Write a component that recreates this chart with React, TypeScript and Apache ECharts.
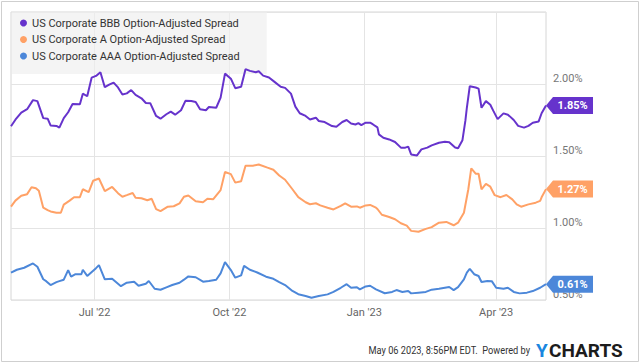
import React, { useEffect, useRef } from "react";
import * as echarts from "echarts";

const bbbDates = ["2022-05-05","2022-05-08","2022-05-12","2022-05-16","2022-05-20","2022-05-23","2022-05-27","2022-05-30","2022-06-01","2022-06-05","2022-06-07","2022-06-10","2022-06-13","2022-06-16","2022-06-21","2022-06-23","2022-06-26","2022-06-29","2022-07-02","2022-07-05","2022-07-08","2022-07-11","2022-07-14","2022-07-17","2022-07-20","2022-07-23","2022-07-26","2022-07-29","2022-08-02","2022-08-05","2022-08-08","2022-08-12","2022-08-15","2022-08-19","2022-08-22","2022-08-25","2022-08-29","2022-09-01","2022-09-05","2022-09-08","2022-09-11","2022-09-15","2022-09-17","2022-09-22","2022-09-25","2022-09-28","2022-10-02","2022-10-05","2022-10-09","2022-10-12","2022-10-15","2022-10-19","2022-10-21","2022-10-24","2022-10-28","2022-11-01","2022-11-05","2022-11-08","2022-11-12","2022-11-15","2022-11-18","2022-11-22","2022-11-25","2022-11-29","2022-12-01","2022-12-05","2022-12-10","2022-12-13","2022-12-17","2022-12-20","2022-12-23","2022-12-26","2022-12-28","2022-12-30","2023-01-02","2023-01-05","2023-01-07","2023-01-10","2023-01-11","2023-01-14","2023-01-18","2023-01-22","2023-01-26","2023-01-29","2023-01-31","2023-02-02","2023-02-06","2023-02-09","2023-02-13","2023-02-16","2023-02-21","2023-02-25","2023-02-28","2023-03-04","2023-03-06","2023-03-09","2023-03-11","2023-03-12","2023-03-14","2023-03-18","2023-03-20","2023-03-22","2023-03-25","2023-03-28","2023-03-30","2023-04-02","2023-04-06","2023-04-09","2023-04-13","2023-04-16","2023-04-20","2023-04-23","2023-04-26","2023-04-30","2023-05-02","2023-05-05"];
const bbbValues = [1.707,1.752,1.801,1.825,1.888,1.881,1.763,1.759,1.712,1.709,1.697,1.763,1.804,1.861,1.860,1.933,1.915,2.044,2.056,2.082,1.978,1.995,2.010,1.976,1.927,1.935,1.958,1.924,1.901,1.868,1.867,1.778,1.759,1.790,1.808,1.787,1.818,1.883,1.882,1.875,1.825,1.818,1.840,1.835,1.905,2.072,2.037,1.971,1.981,2.103,2.091,2.082,2.088,2.058,2.045,2.013,1.981,1.973,1.933,1.843,1.797,1.778,1.754,1.766,1.743,1.736,1.708,1.703,1.736,1.750,1.726,1.719,1.728,1.714,1.731,1.731,1.719,1.699,1.650,1.627,1.615,1.597,1.558,1.558,1.565,1.511,1.504,1.546,1.558,1.574,1.592,1.599,1.596,1.559,1.554,1.610,1.745,1.835,1.985,1.976,1.968,1.835,1.881,1.856,1.815,1.756,1.796,1.787,1.750,1.709,1.697,1.709,1.731,1.740,1.797,1.85];

const aDates = ["2022-05-05","2022-05-08","2022-05-12","2022-05-16","2022-05-19","2022-05-22","2022-05-24","2022-05-27","2022-05-30","2022-06-01","2022-06-05","2022-06-08","2022-06-10","2022-06-14","2022-06-17","2022-06-21","2022-06-23","2022-06-27","2022-06-30","2022-07-04","2022-07-08","2022-07-13","2022-07-17","2022-07-20","2022-07-23","2022-07-27","2022-07-29","2022-08-02","2022-08-06","2022-08-09","2022-08-12","2022-08-15","2022-08-20","2022-08-24","2022-08-28","2022-08-31","2022-09-03","2022-09-08","2022-09-13","2022-09-16","2022-09-20","2022-09-25","2022-09-28","2022-10-02","2022-10-05","2022-10-09","2022-10-12","2022-10-17","2022-10-21","2022-10-27","2022-10-31","2022-11-04","2022-11-08","2022-11-13","2022-11-17","2022-11-22","2022-11-25","2022-11-29","2022-12-02","2022-12-07","2022-12-11","2022-12-16","2022-12-19","2022-12-23","2022-12-27","2022-12-29","2023-01-02","2023-01-05","2023-01-09","2023-01-10","2023-01-13","2023-01-18","2023-01-22","2023-01-26","2023-01-30","2023-02-02","2023-02-07","2023-02-12","2023-02-16","2023-02-21","2023-02-26","2023-03-03","2023-03-06","2023-03-10","2023-03-13","2023-03-15","2023-03-18","2023-03-20","2023-03-22","2023-03-25","2023-03-28","2023-03-31","2023-04-04","2023-04-08","2023-04-12","2023-04-15","2023-04-18","2023-04-23","2023-04-28","2023-05-01","2023-05-02","2023-05-05"];
const aValues = [1.148,1.190,1.224,1.235,1.283,1.276,1.259,1.141,1.124,1.115,1.106,1.106,1.162,1.190,1.214,1.214,1.269,1.249,1.328,1.344,1.256,1.285,1.242,1.217,1.228,1.243,1.210,1.207,1.193,1.203,1.131,1.117,1.148,1.151,1.171,1.217,1.226,1.186,1.179,1.203,1.200,1.263,1.389,1.374,1.315,1.325,1.433,1.433,1.441,1.419,1.405,1.365,1.335,1.269,1.214,1.179,1.165,1.172,1.157,1.141,1.129,1.153,1.171,1.148,1.150,1.141,1.157,1.160,1.141,1.132,1.092,1.076,1.061,1.033,1.016,0.980,0.974,0.994,1.006,1.037,1.042,1.019,1.037,1.106,1.269,1.414,1.377,1.377,1.269,1.306,1.287,1.228,1.214,1.229,1.199,1.164,1.148,1.164,1.176,1.188,1.213,1.27];

const aaaDates = ["2022-05-05","2022-05-09","2022-05-14","2022-05-20","2022-05-23","2022-05-27","2022-05-29","2022-06-01","2022-06-05","2022-06-07","2022-06-10","2022-06-13","2022-06-15","2022-06-18","2022-06-22","2022-06-23","2022-06-26","2022-07-02","2022-07-04","2022-07-08","2022-07-13","2022-07-19","2022-07-23","2022-07-28","2022-07-31","2022-08-05","2022-08-07","2022-08-11","2022-08-15","2022-08-19","2022-08-23","2022-08-28","2022-08-31","2022-09-03","2022-09-08","2022-09-13","2022-09-17","2022-09-22","2022-09-25","2022-09-28","2022-10-02","2022-10-05","2022-10-09","2022-10-11","2022-10-15","2022-10-20","2022-10-26","2022-10-31","2022-11-04","2022-11-08","2022-11-13","2022-11-17","2022-11-22","2022-11-26","2022-12-01","2022-12-07","2022-12-11","2022-12-16","2022-12-20","2022-12-23","2022-12-27","2022-12-29","2023-01-02","2023-01-05","2023-01-09","2023-01-15","2023-01-20","2023-01-23","2023-01-27","2023-01-31","2023-02-02","2023-02-07","2023-02-12","2023-02-16","2023-02-21","2023-02-28","2023-03-03","2023-03-06","2023-03-10","2023-03-12","2023-03-14","2023-03-17","2023-03-20","2023-03-22","2023-03-26","2023-03-29","2023-04-01","2023-04-06","2023-04-09","2023-04-13","2023-04-17","2023-04-22","2023-04-26","2023-05-01","2023-05-05"];
const aaaValues = [0.690,0.710,0.724,0.754,0.731,0.644,0.631,0.604,0.624,0.631,0.641,0.707,0.662,0.679,0.679,0.710,0.667,0.721,0.742,0.644,0.647,0.596,0.620,0.627,0.599,0.613,0.632,0.578,0.571,0.588,0.604,0.620,0.641,0.664,0.658,0.627,0.632,0.641,0.685,0.763,0.708,0.655,0.671,0.737,0.710,0.691,0.662,0.647,0.624,0.604,0.563,0.540,0.528,0.516,0.528,0.539,0.556,0.585,0.610,0.585,0.589,0.574,0.594,0.599,0.574,0.547,0.556,0.569,0.556,0.562,0.546,0.551,0.556,0.572,0.578,0.590,0.569,0.589,0.643,0.690,0.717,0.679,0.667,0.625,0.632,0.631,0.585,0.578,0.585,0.556,0.546,0.551,0.562,0.585,0.61];

const seriesNames = [
  "US Corporate BBB Option-Adjusted Spread",
  "US Corporate A Option-Adjusted Spread",
  "US Corporate AAA Option-Adjusted Spread",
];
const seriesColors = ["#6633cc", "#ffa166", "#4c87d9"];
const xTickDates = ["2022-07-01", "2022-10-01", "2023-01-01", "2023-04-01"];
const monthNames = ["Jan","Feb","Mar","Apr","May","Jun","Jul","Aug","Sep","Oct","Nov","Dec"];
const xMin = "2022-05-05";
const xMax = "2023-05-05";
const yMin = 0.5;
const yMax = 2.5;
const yStep = 0.5;
const footerText = "May 06 2023, 8:56PM EDT.  Powered by";

const toTime = (s: string) => new Date(s + "T00:00:00").getTime();

export default function App() {
  const ref = useRef<HTMLDivElement>(null);
  useEffect(() => {
    if (!ref.current) return;
    const chart = echarts.init(ref.current, undefined, { renderer: "svg" });
    const all = [
      [bbbDates, bbbValues],
      [aDates, aValues],
      [aaaDates, aaaValues],
    ] as [string[], number[]][];
    const series = all.map(([d, v], i) => {
      const last = v.length - 1;
      return {
        name: seriesNames[i],
        type: "line",
        showSymbol: false,
        symbol: "none",
        color: seriesColors[i],
        lineStyle: { width: 2, color: seriesColors[i] },
        data: d.map((dt, k) => [toTime(dt), v[k]]),
        z: 5 - i,
        markPoint: {
          silent: true,
          symbol: "path://M0,8.5 L7,0 L47,0 L47,17 L7,17 Z",
          symbolSize: [47, 17],
          symbolOffset: ["50%", 0],
          itemStyle: { color: seriesColors[i] },
          label: {
            show: true,
            position: "inside",
            offset: [3, 0],
            color: "#fff",
            fontSize: 11,
            fontWeight: "bold",
            fontFamily: "Roboto",
            formatter: (p: any) => Number(p.value).toFixed(2) + "%",
          },
          data: [{ coord: [toTime(d[last]), v[last]], value: v[last] }],
        },
      };
    });
    const ticks = xTickDates.map(toTime);
    chart.setOption({
      animation: false,
      textStyle: { fontFamily: "Roboto" },
      grid: {
        left: 11,
        top: 12,
        right: 94,
        bottom: 63,
        show: true,
        borderColor: "#d6d6d6",
        borderWidth: 1,
        outerBoundsMode: "none",
        containLabel: false,
      },
      legend: {
        orient: "vertical",
        left: 12,
        top: 12,
        padding: [4, 27, 11, 8],
        itemGap: 2.5,
        itemWidth: 7,
        itemHeight: 7,
        icon: "circle",
        backgroundColor: "rgba(238,238,238,0.65)",
        textStyle: { fontSize: 11, color: "#333", fontFamily: "Roboto", lineHeight: 14 },
        data: seriesNames,
        selectedMode: false,
      },
      xAxis: {
        type: "value",
        min: toTime(xMin),
        max: toTime(xMax),
        axisLine: { show: false },
        axisTick: { show: false, customValues: ticks },
        axisLabel: {
          customValues: ticks,
          color: "#666",
          fontSize: 11,
          margin: 7,
          formatter: (val: number) => {
            const dt = new Date(val);
            return monthNames[dt.getMonth()] + " '" + String(dt.getFullYear()).slice(2);
          },
        },
        splitLine: { show: true, lineStyle: { color: "#e4e4e4", width: 1 } },
      },
      yAxis: {
        type: "value",
        position: "right",
        min: yMin,
        max: yMax,
        interval: yStep,
        axisLine: { show: false },
        axisTick: { show: false },
        axisLabel: {
          color: "#777",
          fontSize: 11,
          margin: 7,
          verticalAlign: "bottom",
          showMaxLabel: false,
          formatter: (v: number) => v.toFixed(2) + "%",
        },
        splitLine: { show: true, lineStyle: { color: "#e4e4e4", width: 1 } },
      },
      graphic: [
        {
          type: "rect",
          shape: { x: 1.5, y: 1.5, width: 637, height: 360 },
          style: { fill: "none", stroke: "#cfcfcf", lineWidth: 1 },
          silent: true,
        },
        {
          type: "text",
          x: 368.5,
          y: 350,
          scaleX: 0.84,
          style: {
            text: footerText,
            fill: "#333",
            font: "11px Roboto",
            verticalAlign: "middle",
          },
        },
        {
          type: "text",
          x: 536,
          y: 350,
          style: {
            text: "Y",
            fill: "#1a86e0",
            font: "bold 19px Roboto",
            verticalAlign: "middle",
          },
        },
        {
          type: "text",
          x: 549,
          y: 350,
          style: {
            text: "CHARTS",
            fill: "#1c1c1c",
            font: "bold 19px Roboto",
            verticalAlign: "middle",
          },
        },
      ],
      series,
    });
    return () => chart.dispose();
  }, []);
  return (
    <div
      ref={ref}
      style={{ position: "absolute", left: 0, top: 0, width: 640, height: 363 }}
    />
  );
}
